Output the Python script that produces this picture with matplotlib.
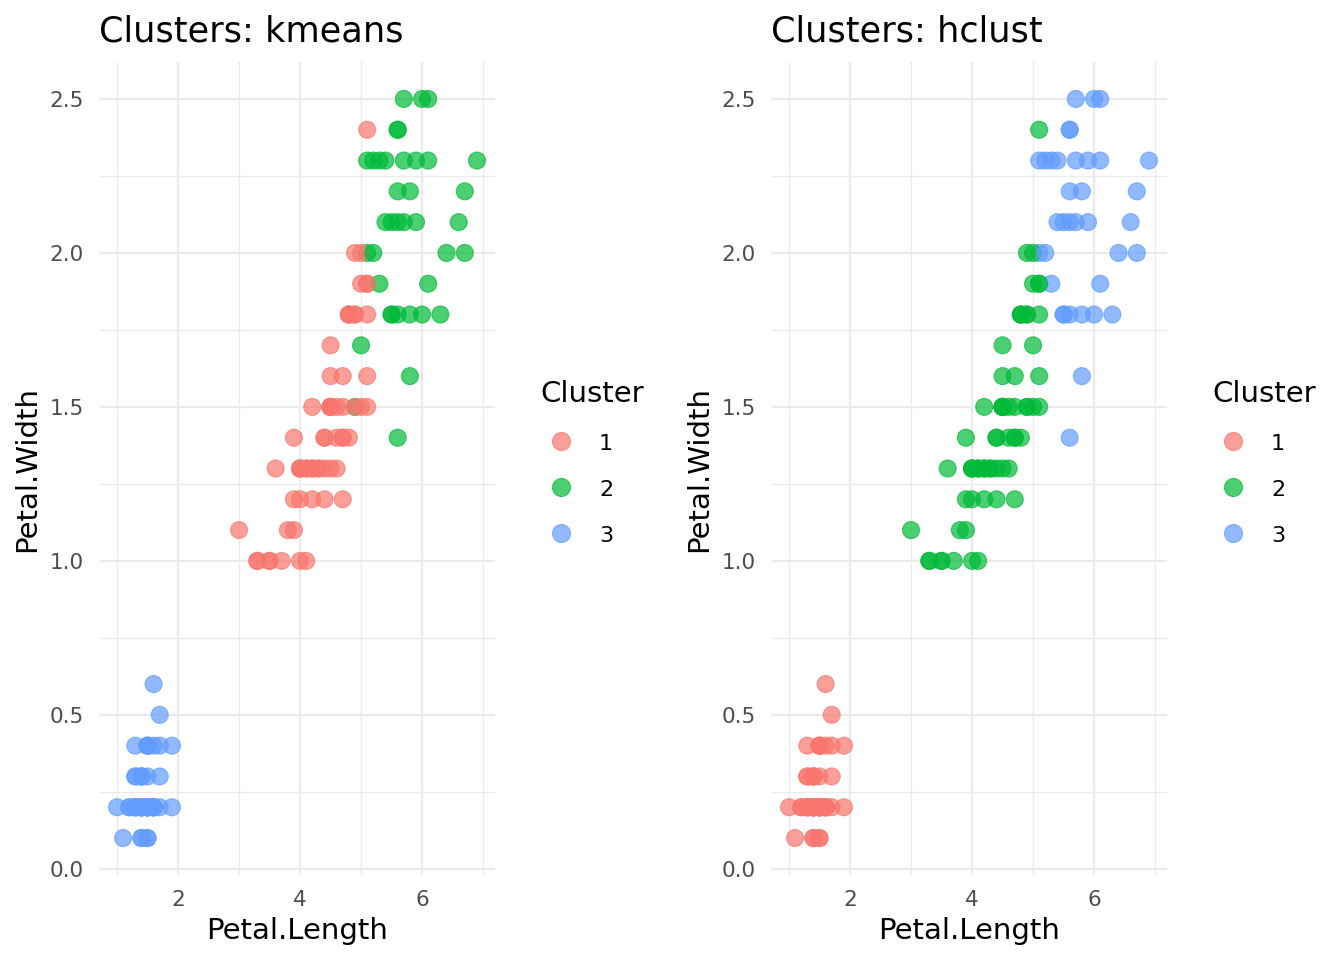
import matplotlib
matplotlib.use("Agg")
import matplotlib.pyplot as plt
from matplotlib.lines import Line2D
from matplotlib.ticker import MultipleLocator, FixedLocator

plt.rcParams['font.family'] = ['DejaVu Sans']

petal_length = [
    1.4, 1.4, 1.3, 1.5, 1.4, 1.7, 1.4, 1.5, 1.4, 1.5, 1.5, 1.6, 1.4, 1.1, 1.2, 1.5, 1.3, 1.4, 1.7, 1.5,
    1.7, 1.5, 1.0, 1.7, 1.9, 1.6, 1.6, 1.5, 1.4, 1.6, 1.6, 1.5, 1.5, 1.4, 1.5, 1.2, 1.3, 1.4, 1.3, 1.5,
    1.3, 1.3, 1.3, 1.6, 1.9, 1.4, 1.6, 1.4, 1.5, 1.4,
    4.7, 4.5, 4.9, 4.0, 4.6, 4.5, 4.7, 3.3, 4.6, 3.9, 3.5, 4.2, 4.0, 4.7, 3.6, 4.4, 4.5, 4.1, 4.5, 3.9,
    4.8, 4.0, 4.9, 4.7, 4.3, 4.4, 4.8, 5.0, 4.5, 3.5, 3.8, 3.7, 3.9, 5.1, 4.5, 4.5, 4.7, 4.4, 4.1, 4.0,
    4.4, 4.6, 4.0, 3.3, 4.2, 4.2, 4.2, 4.3, 3.0, 4.1,
    6.0, 5.1, 5.9, 5.6, 5.8, 6.6, 4.5, 6.3, 5.8, 6.1, 5.1, 5.3, 5.5, 5.0, 5.1, 5.3, 5.5, 6.7, 6.9, 5.0,
    5.7, 4.9, 6.7, 4.9, 5.7, 6.0, 4.8, 4.9, 5.6, 5.8, 6.1, 6.4, 5.6, 5.1, 5.6, 6.1, 5.6, 5.5, 4.8, 5.4,
    5.6, 5.1, 5.1, 5.9, 5.7, 5.2, 5.0, 5.2, 5.4, 5.1,
]
petal_width = [
    0.2, 0.2, 0.2, 0.2, 0.2, 0.4, 0.3, 0.2, 0.2, 0.1, 0.2, 0.2, 0.1, 0.1, 0.2, 0.4, 0.4, 0.3, 0.3, 0.3,
    0.2, 0.4, 0.2, 0.5, 0.2, 0.2, 0.4, 0.2, 0.2, 0.2, 0.2, 0.4, 0.1, 0.2, 0.2, 0.2, 0.2, 0.1, 0.2, 0.2,
    0.3, 0.3, 0.2, 0.6, 0.4, 0.3, 0.2, 0.2, 0.2, 0.2,
    1.4, 1.5, 1.5, 1.3, 1.5, 1.3, 1.6, 1.0, 1.3, 1.4, 1.0, 1.5, 1.0, 1.4, 1.3, 1.4, 1.5, 1.0, 1.5, 1.1,
    1.8, 1.3, 1.5, 1.2, 1.3, 1.4, 1.4, 1.7, 1.5, 1.0, 1.1, 1.0, 1.2, 1.6, 1.5, 1.6, 1.5, 1.3, 1.3, 1.3,
    1.2, 1.4, 1.2, 1.0, 1.3, 1.2, 1.3, 1.3, 1.1, 1.3,
    2.5, 1.9, 2.1, 1.8, 2.2, 2.1, 1.7, 1.8, 1.8, 2.5, 2.0, 1.9, 2.1, 2.0, 2.4, 2.3, 1.8, 2.2, 2.3, 1.5,
    2.3, 2.0, 2.0, 1.8, 2.1, 1.8, 1.8, 1.8, 2.1, 1.6, 1.9, 2.0, 2.2, 1.5, 1.4, 2.3, 2.4, 1.8, 1.8, 2.1,
    2.4, 2.3, 1.9, 2.3, 2.5, 2.3, 1.9, 2.0, 2.3, 1.8,
]
kmeans_cluster = [
    3, 3, 3, 3, 3, 3, 3, 3, 3, 3, 3, 3, 3, 3, 3, 3, 3, 3, 3, 3,
    3, 3, 3, 3, 3, 3, 3, 3, 3, 3, 3, 3, 3, 3, 3, 3, 3, 3, 3, 3,
    3, 3, 3, 3, 3, 3, 3, 3, 3, 3,
    1, 1, 2, 1, 1, 1, 1, 1, 1, 1, 1, 1, 1, 1, 1, 1, 1, 1, 1, 1,
    1, 1, 1, 1, 1, 1, 1, 2, 1, 1, 1, 1, 1, 1, 1, 1, 1, 1, 1, 1,
    1, 1, 1, 1, 1, 1, 1, 1, 1, 1,
    2, 1, 2, 2, 2, 2, 1, 2, 2, 2, 2, 2, 2, 1, 1, 2, 2, 2, 2, 1,
    2, 1, 2, 1, 2, 2, 1, 1, 2, 2, 2, 2, 2, 1, 2, 2, 2, 2, 1, 2,
    2, 2, 1, 2, 2, 2, 1, 2, 2, 1,
]
hclust_cluster = [
    1, 1, 1, 1, 1, 1, 1, 1, 1, 1, 1, 1, 1, 1, 1, 1, 1, 1, 1, 1,
    1, 1, 1, 1, 1, 1, 1, 1, 1, 1, 1, 1, 1, 1, 1, 1, 1, 1, 1, 1,
    1, 1, 1, 1, 1, 1, 1, 1, 1, 1,
    2, 2, 2, 2, 2, 2, 2, 2, 2, 2, 2, 2, 2, 2, 2, 2, 2, 2, 2, 2,
    2, 2, 2, 2, 2, 2, 2, 2, 2, 2, 2, 2, 2, 2, 2, 2, 2, 2, 2, 2,
    2, 2, 2, 2, 2, 2, 2, 2, 2, 2,
    3, 2, 3, 3, 3, 3, 2, 3, 3, 3, 3, 3, 3, 2, 2, 3, 3, 3, 3, 2,
    3, 2, 3, 2, 3, 3, 2, 2, 3, 3, 3, 3, 3, 2, 3, 3, 3, 3, 2, 3,
    3, 3, 2, 3, 3, 3, 2, 3, 3, 2,
]
cluster_levels = [1, 2, 3]
cluster_colors = {1: "#F8766D", 2: "#00BA38", 3: "#619CFF"}
panel_titles = ["Clusters: kmeans", "Clusters: hclust"]

W, H = 1344, 960
fig = plt.figure(figsize=(W / 100, H / 100), dpi=100)

ALPHA = 0.7
GRID = "#EBEBEB"
TXT = "#4D4D4D"

panels = [(99, kmeans_cluster, panel_titles[0]), (771, hclust_cluster, panel_titles[1])]
for left_px, clusters, title in panels:
    ax = fig.add_axes([left_px / W, (H - 875) / H, 396 / W, 813 / H])
    cols = [cluster_colors[c] for c in clusters]
    ax.scatter(petal_length, petal_width, s=150, c=cols, alpha=ALPHA,
               edgecolors=cols, linewidths=0.8, zorder=3)
    ax.set_xlim(0.705, 7.195)
    ax.set_ylim(-0.02, 2.62)
    ax.xaxis.set_major_locator(FixedLocator([2, 4, 6]))
    ax.xaxis.set_minor_locator(FixedLocator([1, 3, 5, 7]))
    ax.yaxis.set_major_locator(MultipleLocator(0.5))
    ax.yaxis.set_minor_locator(FixedLocator([0.25, 0.75, 1.25, 1.75, 2.25]))
    ax.yaxis.set_major_formatter(plt.FuncFormatter(lambda v, p: f"{v:.1f}"))
    ax.grid(True, which="major", color=GRID, linewidth=1.6, zorder=0)
    ax.grid(True, which="minor", color=GRID, linewidth=1.0, zorder=0)
    ax.set_axisbelow(True)
    for sp in ax.spines.values():
        sp.set_visible(False)
    ax.tick_params(which="both", length=0)
    ax.tick_params(axis="y", labelsize=15.5, labelcolor=TXT, pad=11)
    ax.tick_params(axis="x", labelsize=15.5, labelcolor=TXT, pad=11)
    ax.set_xlabel("Petal.Length", fontsize=21, color="black", labelpad=5)
    ax.set_ylabel("Petal.Width", fontsize=21, color="black", labelpad=6)
    fig.text(left_px / W, 1 - 41 / H, title, fontsize=25.3, color="black",
             ha="left", va="baseline")

    handles = [Line2D([0], [0], marker="o", linestyle="none", markersize=13,
                      markerfacecolor=cluster_colors[c], markeredgecolor=cluster_colors[c],
                      markeredgewidth=0.8, alpha=ALPHA) for c in cluster_levels]
    leg = fig.legend(handles, [str(c) for c in cluster_levels], title="Cluster",
                     loc="center left", bbox_to_anchor=((left_px + 441) / W, 1 - 463 / H),
                     frameon=False, fontsize=16, title_fontsize=21,
                     handlelength=1.9, handleheight=1.0, handletextpad=0.75,
                     labelspacing=1.1, borderpad=0, borderaxespad=0, alignment="left")

fig.savefig("out.png", dpi=100)
